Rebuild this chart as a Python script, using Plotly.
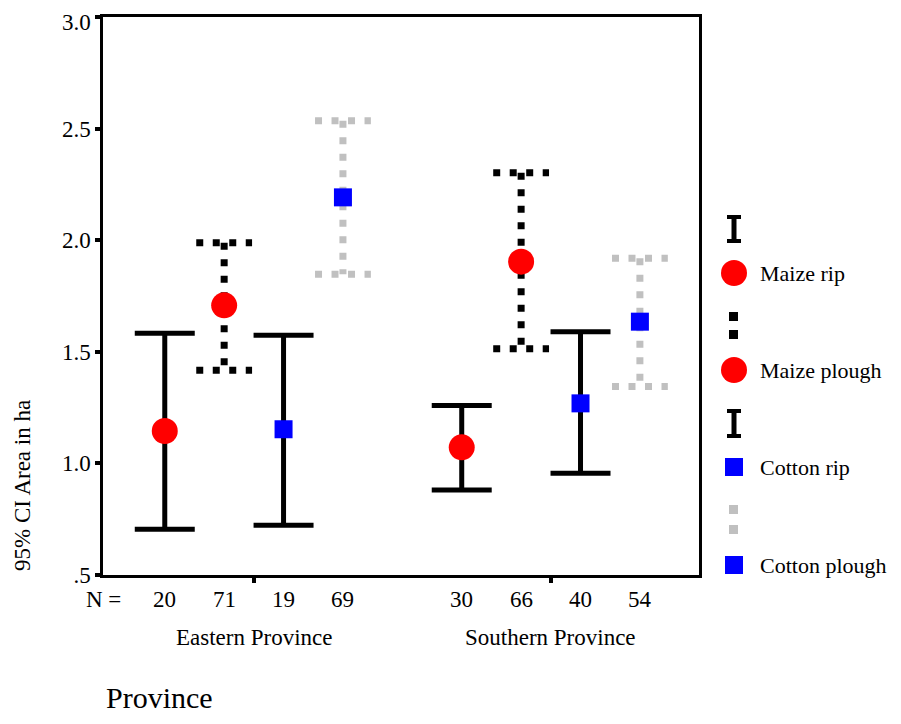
import plotly.graph_objects as go

# ---- data ----
provinces = ["Eastern Province", "Southern Province"]
series = ["Maize rip", "Maize plough", "Cotton rip", "Cotton plough"]
n_counts = {
    "Eastern Province": [20, 71, 19, 69],
    "Southern Province": [30, 66, 40, 54],
}
means = {
    "Maize rip": [1.145, 1.072],
    "Maize plough": [1.708, 1.904],
    "Cotton rip": [1.153, 1.269],
    "Cotton plough": [2.192, 1.635],
}
lower = {
    "Maize rip": [0.705, 0.881],
    "Maize plough": [1.417, 1.514],
    "Cotton rip": [0.723, 0.956],
    "Cotton plough": [1.847, 1.344],
}
upper = {
    "Maize rip": [1.583, 1.259],
    "Maize plough": [1.989, 2.302],
    "Cotton rip": [1.574, 1.590],
    "Cotton plough": [2.535, 1.919],
}
y_ticks = [0.5, 1.0, 1.5, 2.0, 2.5, 3.0]
y_ticktext = [".5", "1.0", "1.5", "2.0", "2.5", "3.0"]

# ---- layout helpers (page pixel coords, body margin 8px) ----
OFF = 8
W, H = 901 - 2 * OFF, 724 - 2 * OFF
L, R, T, B = 103, 699, 17, 575  # plot area in page coords
FONT = "Liberation Serif"
FS = 23


def px(x):
    return (x - L) / (R - L)


def py(y):
    return (B - y) / (B - T)


pos = {}
for gi, prov in enumerate(provinces):
    for si, s in enumerate(series):
        pos[(prov, s)] = gi * 5 + si

style = {
    "Maize rip": dict(color="black", dash="solid", width=5, half=0.505,
                      msym="circle", msize=26, mcol="red"),
    "Maize plough": dict(color="black", dash="7px,9.5px", width=7, half=0.47,
                         msym="circle", msize=26, mcol="red"),
    "Cotton rip": dict(color="black", dash="solid", width=5, half=0.505,
                       msym="square", msize=18, mcol="blue"),
    "Cotton plough": dict(color="#c0c0c0", dash="7px,9.5px", width=7, half=0.47,
                          msym="square", msize=18, mcol="blue"),
}

fig = go.Figure()

for s in series:
    st = style[s]
    xs, ys = [], []
    for gi, prov in enumerate(provinces):
        x = pos[(prov, s)]
        lo, hi = lower[s][gi], upper[s][gi]
        h = st["half"]
        xs += [x, x, None, x - h, x + h, None, x - h, x + h, None]
        ys += [hi, lo, None, hi, hi, None, lo, lo, None]
    fig.add_trace(go.Scatter(
        x=xs, y=ys, mode="lines",
        line=dict(color=st["color"], width=st["width"], dash=st["dash"]),
        hoverinfo="skip", showlegend=False,
    ))

for s in series:
    st = style[s]
    fig.add_trace(go.Scatter(
        x=[pos[(p, s)] for p in provinces],
        y=means[s], mode="markers", name=s,
        marker=dict(symbol=st["msym"], size=st["msize"], color=st["mcol"],
                    line=dict(width=0)),
        showlegend=False,
    ))

annotations = []


def txt(x, y, text, xref="paper", size=FS, xanchor="center", angle=0,
        yanchor="middle"):
    annotations.append(dict(x=x, y=y, xref=xref, yref="paper", text=text,
                            showarrow=False, xanchor=xanchor, yanchor=yanchor,
                            textangle=angle,
                            font=dict(family=FONT, size=size, color="black")))


# top y tick label drawn as annotation so it stays inside the page
axis_ticktext = y_ticktext[:-1] + [""]
txt(px(93), 1 + (T - OFF) / (B - T), y_ticktext[-1], xanchor="right", yanchor="top")

# N labels
txt(px(103), py(599), "N =")
for prov in provinces:
    for si, s in enumerate(series):
        txt(pos[(prov, s)], py(599), str(n_counts[prov][si]), xref="x")
# province labels
for gi, prov in enumerate(provinces):
    txt(gi * 5 + 1.5, py(637), prov, xref="x")
# axis titles
txt(px(104), py(716), "Province", size=30, xanchor="left", yanchor="bottom")
txt(px(22), py(486), "95% CI Area in ha", angle=-90)

# ---- custom legend ----
shapes = []
leg_x = 734
leg_text_x = 758


def ibar(y0, y1):
    shapes.append(dict(type="line", xref="paper", yref="paper",
                       x0=px(leg_x), x1=px(leg_x), y0=py(y0), y1=py(y1),
                       line=dict(color="black", width=5)))
    for yy in (y0 + 2, y1 - 2):
        shapes.append(dict(type="line", xref="paper", yref="paper",
                           x0=px(leg_x - 7), x1=px(leg_x + 7), y0=py(yy), y1=py(yy),
                           line=dict(color="black", width=4)))


def dots(y_list, color):
    for yc in y_list:
        shapes.append(dict(type="rect", xref="paper", yref="paper",
                           x0=px(leg_x - 5), x1=px(leg_x + 4),
                           y0=py(yc - 5), y1=py(yc + 4),
                           fillcolor=color, line=dict(width=0)))


def marker(yc, kind, color, size):
    shapes.append(dict(type=kind, xref="paper", yref="paper",
                       x0=px(leg_x - size / 2), x1=px(leg_x + size / 2),
                       y0=py(yc - size / 2), y1=py(yc + size / 2),
                       fillcolor=color, line=dict(width=0)))


ibar(215, 243)
marker(273, "circle", "red", 26)
dots([317, 335], "black")
marker(370, "circle", "red", 26)
ibar(409, 438)
marker(467, "rect", "blue", 18)
dots([510, 530], "#c0c0c0")
marker(565, "rect", "blue", 18)

for s, yc in zip(series, [273, 370, 467, 565]):
    txt(px(leg_text_x), py(yc), s, xanchor="left", size=22)

fig.update_layout(
    width=W, height=H,
    margin=dict(l=L - OFF, r=(901 - OFF) - R, t=T - OFF, b=(724 - OFF) - B, pad=0),
    paper_bgcolor="white", plot_bgcolor="white",
    showlegend=False,
    xaxis=dict(range=[-1.04, 8.995], showgrid=False, zeroline=False,
               automargin=False,
               showline=True, linecolor="black", linewidth=2.5, mirror=True,
               tickvals=[1.5, 6.5], ticktext=["", ""], ticks="outside",
               ticklen=5, tickwidth=4, tickcolor="black"),
    yaxis=dict(range=[0.5, 3.0], showgrid=False, zeroline=False,
               automargin=False, ticklabeloverflow="allow",
               showline=True, linecolor="black", linewidth=2.5, mirror=True,
               tickvals=y_ticks, ticktext=axis_ticktext, ticks="outside",
               ticklen=5, tickwidth=4, tickcolor="black",
               tickfont=dict(family=FONT, size=FS, color="black")),
    annotations=annotations,
    shapes=shapes,
)

fig.write_html("out.html")
